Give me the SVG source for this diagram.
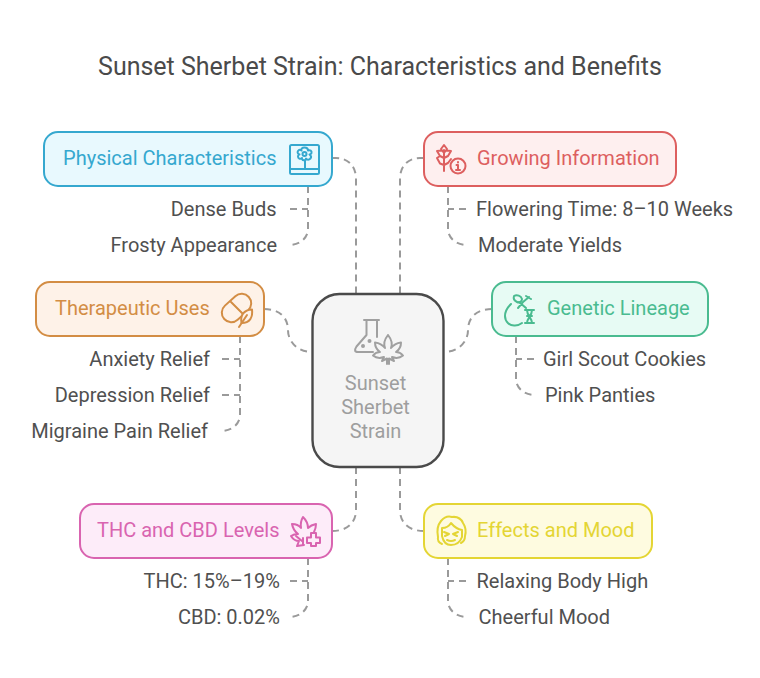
<svg xmlns="http://www.w3.org/2000/svg" width="760" height="678" viewBox="0 0 760 678">
<style>
text{font-family:Roboto,"Liberation Sans",sans-serif}
.t{font-size:25px;fill:#4a4a4a;text-anchor:middle}
.h{font-size:20px}
.l{font-size:20px;fill:#505050}
.e{text-anchor:end}
.c{fill:none;stroke:#9a9a9a;stroke-width:2;stroke-dasharray:7 5}
.b{stroke-width:2}
.i{fill:none;stroke-width:2;stroke-linecap:round;stroke-linejoin:round}
.blue{stroke:#35a8cf}.red{stroke:#dd5f5f}.or{stroke:#d38d44}.gr{stroke:#4abb90}.pk{stroke:#d964b0}.ye{stroke:#e4d534}.gy{stroke:#a0a0a0}
</style>
<defs>
<path id="leaf" d="M0 -15C-4 -10 -4.500 -6 -3 -2C-6 -6 -9 -7 -13 -7.500C-13 -3 -11 0 -8 2C-10 2 -13 3 -15 5.500C-12 8 -8 8.500 -4 7L-6 11L-1 8.500V14M0 -15C4 -10 4.500 -6 3 -2C6 -6 9 -7 13 -7.500C13 -3 11 0 8 2C10 2 13 3 15 5.500C12 8 8 8.500 4 7L6 11L1 8.500V14"/>
</defs>
<rect width="760" height="678" fill="#fff"/>
<text class="t" x="380" y="75">Sunset Sherbet Strain: Characteristics and Benefits</text>
<g id="connectors">
<path class="c" d="M332 158H336C348 158 356 166 356 179V294"/>
<path class="c" d="M424 158H420C408 158 400 166 400 179V294"/>
<path class="c" d="M264 309C280 309 288 318 288 330C288 342 298 352 312 352"/>
<path class="c" d="M492 309C476 309 468 318 468 330C468 342 458 352 444 352"/>
<path class="c" d="M356 467V510C356 522 348 531 332 531"/>
<path class="c" d="M400 467V510C400 522 408 531 424 531"/>
<path class="c" d="M308 186V229C308 238 300 245 288 245"/>
<path class="c" d="M290 209H308"/>
<path class="c" d="M448 186V229C448 238 456 245 468 245"/>
<path class="c" d="M466 209H448"/>
<path class="c" d="M240 336V415C240 424 232 431 220 431"/>
<path class="c" d="M222 359H240"/>
<path class="c" d="M222 395H240"/>
<path class="c" d="M516 336V379C516 388 524 395 536 395"/>
<path class="c" d="M534 359H516"/>
<path class="c" d="M308 558V601C308 610 300 617 288 617"/>
<path class="c" d="M290 581H308"/>
<path class="c" d="M448 558V601C448 610 456 617 468 617"/>
<path class="c" d="M466 581H448"/>
</g>
<g id="center">
<rect x="312.500" y="294" width="131" height="173" rx="27" fill="#f5f5f5" stroke="#4a4a4a" stroke-width="2.400"/>
<g class="i gy"><path d="M364 320H379M366.500 320V335L356.500 346.500Q353 352 358 352H373M377 320V337"/><circle cx="363" cy="346" r="1"/><circle cx="369.500" cy="341" r="1"/><use href="#leaf" x="388" y="350"/></g>
<text class="h" fill="#9e9e9e" text-anchor="middle" x="375.500" y="390">Sunset</text>
<text class="h" fill="#9e9e9e" text-anchor="middle" x="375.500" y="414">Sherbet</text>
<text class="h" fill="#9e9e9e" text-anchor="middle" x="375.500" y="438">Strain</text>
</g>
<g id="physical">
<rect class="b blue" x="44" y="132" width="288" height="54" rx="14" fill="#e8f9fe"/>
<text class="h e" fill="#35a8cf" x="276.500" y="165">Physical Characteristics</text>
<g class="i blue"><rect x="290" y="145" width="29" height="29" rx="1.500"/><path d="M290 169H319M305 169V161"/><circle cx="304.500" cy="154" r="2"/><path d="M304.500 147.500C307 147.500 308 149 308 150.500C310 149.500 312 151 311.500 153C311 154 310 154.500 309.500 154.500C311 155.500 311.500 157 310.500 158.500C309 160 307 160 306 158.500C306 160.500 303 161 302 159C301.500 158.500 302 158 302 158C300 159.500 298 158.500 298 156.500C298 155.500 299 154.500 299.500 154.500C298 154 297 152.500 298 151C299 149.500 300.500 149.500 301.500 150.500C301 149 302 147.500 304.500 147.500Z"/></g>
<text class="l e" x="276.500" y="216">Dense Buds</text>
<text class="l e" x="277" y="252">Frosty Appearance</text>
</g>
<g id="growing">
<rect class="b red" x="424" y="132" width="252" height="54" rx="14" fill="#feefef"/>
<text class="h" fill="#dd5f5f" x="477" y="165">Growing Information</text>
<g class="i red"><path d="M444 150V171M444 145L441 149L444 153L447 149ZM444 158L440 156L437 151L442 150.500M444 158L448 156L451 151L446 150.500M444 165L440 163.500L437 158L440 156M444 165L448 163L451 159"/><circle cx="458" cy="166" r="7.500"/><path d="M458 165V170M456 170H460M456.500 165H458M458 162V162.500"/></g>
<text class="l" x="476" y="216">Flowering Time: 8–10 Weeks</text>
<text class="l" x="478" y="252">Moderate Yields</text>
</g>
<g id="therapeutic">
<rect class="b or" x="36" y="282" width="228" height="54" rx="14" fill="#fef2e8"/>
<text class="h" fill="#d38d44" x="55" y="315">Therapeutic Uses</text>
<g class="i or"><rect x="220" y="298.500" width="33" height="19" rx="9.500" transform="rotate(-42 236.500 308)"/><path d="M231 302L243 314"/><path d="M241.500 323C240 315 244 310 252 309.500C253 317 250 323 241.500 323Z" fill="#fef2e8"/><path d="M239 327L247 315"/></g>
<text class="l e" x="210" y="366">Anxiety Relief</text>
<text class="l e" x="210" y="402">Depression Relief</text>
<text class="l e" x="208" y="438">Migraine Pain Relief</text>
</g>
<g id="genetic">
<rect class="b gr" x="492" y="282" width="216" height="54" rx="14" fill="#e7fbf4"/>
<text class="h" fill="#4abb90" x="547" y="315">Genetic Lineage</text>
<g class="i gr"><path d="M511 304C507 308 505 311 505 316C505 322 510 326 515 325.500C518 325.500 520 324.500 522 323"/><path d="M514 296C517 294 521 296 522 299C522 302 519 303 517 302C515 301 513 299 514 296Z"/><path d="M519 302L526 308M523 302L529 297M526 296L531 299M518 308L523 302M525 310H534M525 323H534M527 310C527 316 532 318 532 323M532 310C532 316 527 318 527 323M527 316H532"/></g>
<text class="l" x="543" y="366">Girl Scout Cookies</text>
<text class="l" x="545" y="402">Pink Panties</text>
</g>
<g id="thc">
<rect class="b pk" x="80" y="504" width="252" height="54" rx="14" fill="#fdecf9"/>
<text class="h" fill="#d964b0" x="97" y="537">THC and CBD Levels</text>
<g class="i pk"><path d="M304 545L297 546L299 541Q294 541 291 536Q294 534 298 534Q293 530 292 524Q298 524 301 528Q300 522 303 517Q308 522 308 528Q311 525 316 524Q316 528 314 532"/><path d="M303 545V538M296 536L302 541"/><path d="M311 533H316V537.500H320V543H316V546H311V543H307V537.500H311Z"/></g>
<text class="l e" x="280" y="588">THC: 15%–19%</text>
<text class="l e" x="280" y="624">CBD: 0.02%</text>
</g>
<g id="effects">
<rect class="b ye" x="424" y="504" width="228" height="54" rx="14" fill="#fefbe0"/>
<text class="h" fill="#e4d534" x="477" y="537">Effects and Mood</text>
<g class="i ye"><path d="M442 544Q437 542 438 537Q436 527 441 521Q446 515 452 517Q460 516 463 523Q467 529 465 536Q465 541 461 543"/><path d="M442 528Q448 528 451 523Q456 529 462 530M442 528V536Q444 545 451 545Q459 545 462 537V530"/><path d="M444 532L449 534L445 536M458 532L453 534L457 536M447 540Q451 542 455 540"/></g>
<text class="l" x="476.500" y="588">Relaxing Body High</text>
<text class="l" x="478.500" y="624">Cheerful Mood</text>
</g>
</svg>
